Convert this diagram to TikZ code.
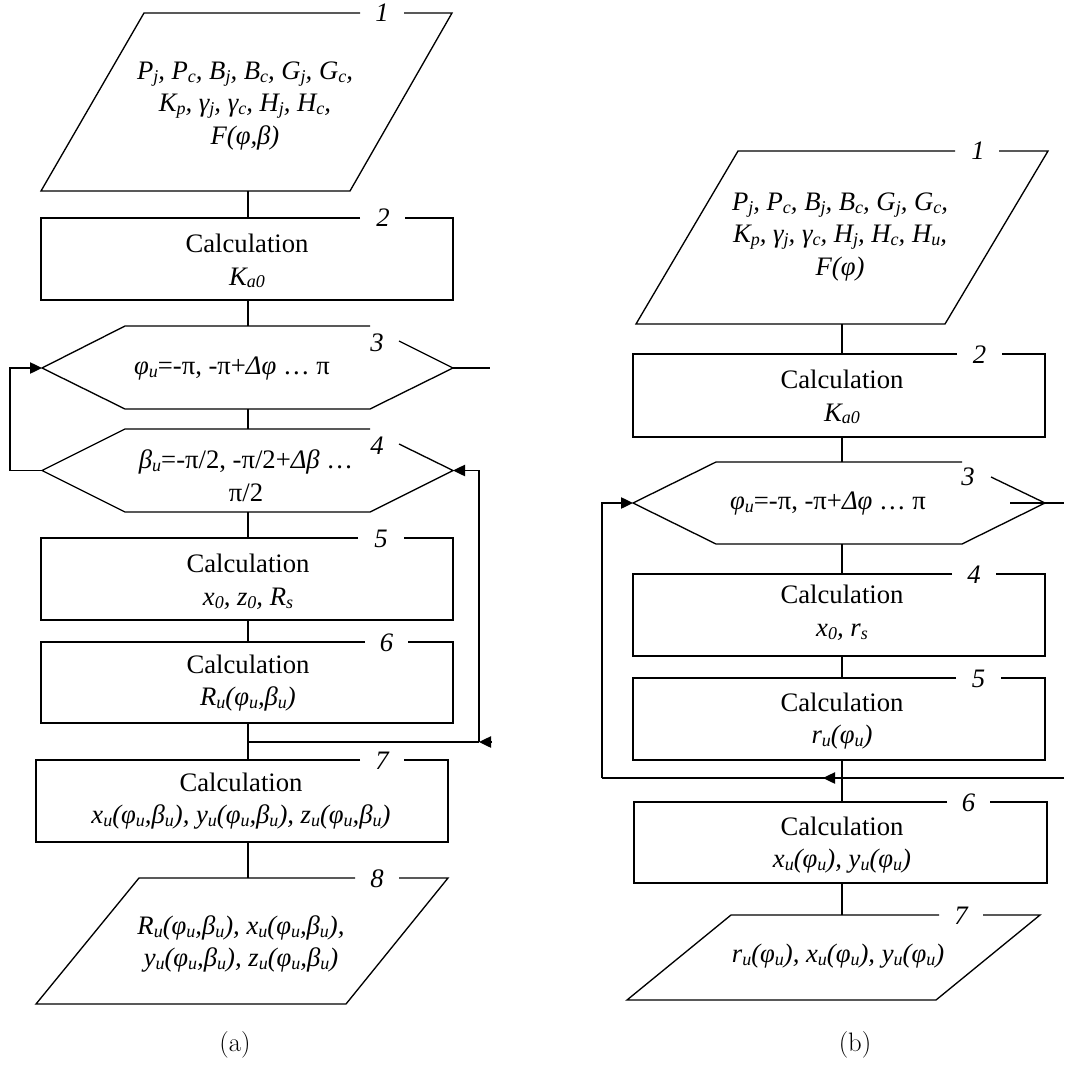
\documentclass[tikz,border=0pt]{standalone}
\usepackage{fontspec}
\setmainfont{Liberation Serif}
\newfontfamily\lmfont{Latin Modern Roman}
\usetikzlibrary{arrows.meta}
\newcommand\sbs[1]{\raisebox{-2.2pt}{\fontsize{13.5}{13.5}\selectfont #1}}
\tikzset{
  outline/.style={line width=1pt, line join=miter},
  conn/.style={line width=1pt},
  txt/.style={font=\fontsize{20}{24.5}\selectfont\itshape, align=center, inner sep=0pt},
  num/.style={font=\fontsize{20}{24}\selectfont\itshape, anchor=base, inner sep=0pt},
  arr/.style={line width=1pt, -{Triangle[length=9pt,width=8.5pt]}},
  captxt/.style={font=\lmfont\fontsize{20}{24}\selectfont, inner sep=0pt}
}
\begin{document}
\begin{tikzpicture}[x=0.75pt,y=-0.75pt]
\useasboundingbox (0,0) rectangle (1064,1066);

% ================= (a) =================
% block 1 parallelogram
\draw[outline] (360,13) -- (144,13) -- (41,191) -- (350,191) -- (452,13) -- (404,13);
\node[num] (an1) at (382,22) {1};
\node[txt] (a1) at (245,106) {P\sbs{j}, P\sbs{c}, B\sbs{j}, B\sbs{c}, G\sbs{j}, G\sbs{c},\\K\sbs{p}, γ\sbs{j}, γ\sbs{c}, H\sbs{j}, H\sbs{c},\\F(φ,β)};
\coordinate (a1b) at (248,191);
% block 2
\draw[outline] (360,218) -- (41,218) -- (41,300) -- (453,300) -- (453,218) -- (405,218);
\node[num] (an2) at (383,227) {2};
\node[txt] (a2) at (247,261) {\textup{Calculation}\\K\sbs{a0}};
\coordinate (a2t) at (248,218);
\coordinate (a2b) at (248,300);
% block 3 hexagon
\draw[outline] (370,326) -- (125,326) -- (42,368) -- (125,409) -- (370,409) -- (453,368) -- (399,341);
\node[num] (an3) at (377,351) {3};
\node[txt] (a3) at (232,369) {φ\sbs{u}\textup{=-π, -π+}Δφ\textup{ … π}};
\coordinate (a3t) at (248,326);
\coordinate (a3b) at (248,409);
\coordinate (a3l) at (42,368);
\coordinate (a3r) at (453,368);
\coordinate (a3x) at (490,368);
% block 4 hexagon
\draw[outline] (370,429) -- (125,429) -- (42,470.5) -- (125,512) -- (370,512) -- (453,470.5) -- (399,444);
\node[num] (an4) at (377,454) {4};
\node[txt] (a4) at (246,476) {β\sbs{u}\textup{=-π/2, -π/2+}Δβ\textup{ …}\\\textup{π/2}};
\coordinate (a4t) at (248,429);
\coordinate (a4b) at (248,512);
\coordinate (a4l) at (42,470.5);
\coordinate (a4r) at (453,470.5);
% block 5
\draw[outline] (358,538) -- (41,538) -- (41,620) -- (453,620) -- (453,538) -- (404,538);
\node[num] (an5) at (381,547) {5};
\node[txt] (a5) at (248,582) {\textup{Calculation}\\x\sbs{0}, z\sbs{0}, R\sbs{s}};
\coordinate (a5t) at (248,538);
\coordinate (a5b) at (248,620);
% block 6
\draw[outline] (365,642) -- (41,642) -- (41,723) -- (453,723) -- (453,642) -- (408,642);
\node[num] (an6) at (386.5,651) {6};
\node[txt] (a6) at (248,683) {\textup{Calculation}\\R\sbs{u}(φ\sbs{u},β\sbs{u})};
\coordinate (a6t) at (248,642);
\coordinate (a6b) at (248,723);
% junction
\coordinate (aj) at (248,742);
\coordinate (ajr) at (479,742);
\coordinate (ajx) at (492,742);
\coordinate (aup) at (479,470.5);
% block 7
\draw[outline] (360,760) -- (36,760) -- (36,842) -- (448,842) -- (448,760) -- (404,760);
\node[num] (an7) at (382,769) {7};
\node[txt] (a7) at (241,801) {\textup{Calculation}\\x\sbs{u}(φ\sbs{u},β\sbs{u}), y\sbs{u}(φ\sbs{u},β\sbs{u}), z\sbs{u}(φ\sbs{u},β\sbs{u})};
\coordinate (a7t) at (248,760);
\coordinate (a7b) at (248,842);
% block 8 parallelogram
\draw[outline] (355,878) -- (139,878) -- (36,1004) -- (346,1004) -- (448,878) -- (399,878);
\node[num] (an8) at (377,887) {8};
\node[txt] (a8) at (241,944) {R\sbs{u}(φ\sbs{u},β\sbs{u}), x\sbs{u}(φ\sbs{u},β\sbs{u}),\\y\sbs{u}(φ\sbs{u},β\sbs{u}), z\sbs{u}(φ\sbs{u},β\sbs{u})};
\coordinate (a8t) at (248,878);
% connectors (a)
\draw[conn] (a1b) -- (a2t);
\draw[conn] (a2b) -- (a3t);
\draw[conn] (a3b) -- (a4t);
\draw[conn] (a4b) -- (a5t);
\draw[conn] (a5b) -- (a6t);
\draw[conn] (a6b) -- (a7t);
\draw[conn] (a7b) -- (a8t);
\draw[conn] (a3r) -- (a3x);
\draw[arr] (a4l) -- (10,470.5) -- (10,368) -- (a3l);
\draw[conn] (aj) -- (ajr);
\draw[arr] (ajx) -- (ajr);
\draw[arr] (ajr) -- (aup) -- (a4r);
\node[captxt] (capa) at (235,1045) {(a)};

% ================= (b) =================
% block 1 parallelogram
\draw[outline] (955,151) -- (738,151) -- (636,324) -- (945,324) -- (1048,151) -- (999,151);
\node[num] (bn1) at (978,160) {1};
\node[txt] (b1) at (840,237) {P\sbs{j}, P\sbs{c}, B\sbs{j}, B\sbs{c}, G\sbs{j}, G\sbs{c},\\K\sbs{p}, γ\sbs{j}, γ\sbs{c}, H\sbs{j}, H\sbs{c}, H\sbs{u},\\F(φ)};
\coordinate (b1b) at (842,324);
% block 2
\draw[outline] (957,354) -- (633,354) -- (633,437) -- (1045,437) -- (1045,354) -- (1002,354);
\node[num] (bn2) at (979.5,363) {2};
\node[txt] (b2) at (842,397) {\textup{Calculation}\\K\sbs{a0}};
\coordinate (b2t) at (842,354);
\coordinate (b2b) at (842,437);
% block 3 hexagon
\draw[outline] (962,462) -- (716,462) -- (633,503) -- (716,544) -- (962,544) -- (1045,503) -- (991,477);
\node[num] (bn3) at (968,485) {3};
\node[txt] (b3) at (828,504) {φ\sbs{u}\textup{=-π, -π+}Δφ\textup{ … π}};
\coordinate (b3t) at (842,462);
\coordinate (b3b) at (842,544);
\coordinate (b3l) at (633,503);
\coordinate (b3i) at (1010,503);
\coordinate (b3x) at (1064,503);
% block 4
\draw[outline] (952,574) -- (633,574) -- (633,656) -- (1045,656) -- (1045,574) -- (996,574);
\node[num] (bn4) at (974,583) {4};
\node[txt] (b4) at (842,613) {\textup{Calculation}\\x\sbs{0}, r\sbs{s}};
\coordinate (b4t) at (842,574);
\coordinate (b4b) at (842,656);
% block 5
\draw[outline] (956,678) -- (633,678) -- (633,760) -- (1045,760) -- (1045,678) -- (1001,678);
\node[num] (bn5) at (978.5,687) {5};
\node[txt] (b5) at (842,721) {\textup{Calculation}\\r\sbs{u}(φ\sbs{u})};
\coordinate (b5t) at (842,678);
\coordinate (b5b) at (842,760);
% junction
\coordinate (bjr) at (1064,778);
\coordinate (bjl) at (602,778);
\coordinate (bja) at (837,778);
\coordinate (bjt) at (823,778);
% block 6
\draw[outline] (947,802) -- (634,802) -- (634,883) -- (1047,883) -- (1047,802) -- (990,802);
\node[num] (bn6) at (968.5,811) {6};
\node[txt] (b6) at (842,845) {\textup{Calculation}\\x\sbs{u}(φ\sbs{u}), y\sbs{u}(φ\sbs{u})};
\coordinate (b6t) at (842,802);
\coordinate (b6b) at (842,883);
% block 7 parallelogram
\draw[outline] (939,915) -- (731,915) -- (627,1000) -- (936,1000) -- (1040,915) -- (983,915);
\node[num] (bn7) at (961,924) {7};
\node[txt] (b7) at (838,956) {r\sbs{u}(φ\sbs{u}), x\sbs{u}(φ\sbs{u}), y\sbs{u}(φ\sbs{u})};
\coordinate (b7t) at (842,915);
% connectors (b)
\draw[conn] (b1b) -- (b2t);
\draw[conn] (b2b) -- (b3t);
\draw[conn] (b3b) -- (b4t);
\draw[conn] (b4b) -- (b5t);
\draw[conn] (b5b) -- (b6t);
\draw[conn] (b6b) -- (b7t);
\draw[conn] (b3i) -- (b3x);
\draw[conn] (bjr) -- (bjl);
\draw[arr] (bja) -- (bjt);
\draw[arr] (bjl) -- (602,503) -- (b3l);
\node[captxt] (capb) at (855,1045) {(b)};
\end{tikzpicture}
\end{document}
